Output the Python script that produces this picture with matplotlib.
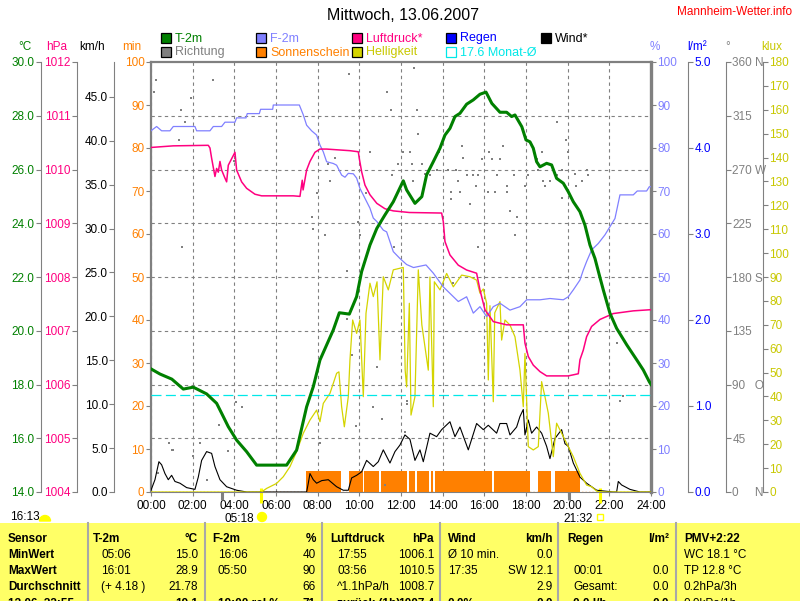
import matplotlib
matplotlib.use('Agg')
import matplotlib.pyplot as plt
from matplotlib.patches import Rectangle, Circle, Wedge
import numpy as np

plt.rcParams['font.family'] = ['Liberation Sans', 'DejaVu Sans']
plt.rcParams['font.size'] = 8.5

# ---------------- data ----------------
title = 'Mittwoch, 13.06.2007'
site = 'Mannheim-Wetter.info'
monat_avg = 17.6

t_hours = [0.0, 0.43, 1.0, 1.55, 2.03, 2.67, 3.15, 3.39, 3.71, 4.11, 4.59, 5.07, 6.51, 6.99, 7.47,
           7.79, 8.11, 8.43, 8.75, 9.04, 9.52, 9.87, 10.11, 10.51, 10.84, 11.23, 11.63, 12.11, 12.27,
           12.67, 13.0, 13.23, 13.55, 13.87, 14.11, 14.35, 14.59, 14.83, 15.15, 15.47, 15.79, 16.08,
           16.36, 16.75, 17.07, 17.31, 17.47, 17.8, 18.0, 18.19, 18.35, 18.51, 18.67, 18.99, 19.23,
           19.47, 19.79, 20.03, 20.27, 20.59, 20.83, 21.07, 21.31, 21.52, 21.71, 22.03, 22.35, 22.84,
           23.32, 23.63, 23.92, 24.0]
temp = [18.58, 18.39, 18.2, 17.83, 17.9, 17.65, 17.3, 16.93, 16.43, 15.93, 15.5, 15.0, 15.0, 15.56,
        17.17, 17.92, 18.91, 19.47, 20.03, 20.67, 20.62, 21.27, 22.2, 23.19, 23.81, 24.31, 24.8, 25.58,
        25.24, 24.74, 24.99, 25.8, 26.29, 26.79, 27.28, 27.53, 27.97, 28.09, 28.43, 28.59, 28.8, 28.88,
        28.46, 28.13, 28.13, 27.97, 28.03, 27.59, 27.1, 27.03, 26.79, 26.29, 26.1, 26.23, 26.17, 25.67,
        25.49, 25.17, 24.8, 24.43, 23.93, 23.19, 22.69, 22.07, 21.52, 20.65, 20.09, 19.47, 18.91, 18.54,
        18.1, 18.0]

h_hours = [0.0, 0.27, 0.51, 0.91, 1.07, 2.11, 2.19, 2.83, 2.99, 3.39, 3.55, 4.03, 4.11, 4.56, 4.62,
           5.2, 5.26, 5.84, 5.87, 7.12, 7.31, 7.47, 7.71, 7.95, 8.11, 8.27, 8.43, 8.75, 8.91, 9.15,
           9.31, 9.47, 9.71, 9.87, 10.03, 10.27, 10.51, 10.67, 10.84, 11.15, 11.31, 11.47, 11.63,
           11.79, 11.95, 12.27, 12.6, 13.2, 13.55, 14.03, 14.75, 15.15, 15.47, 15.79, 16.11, 16.43,
           16.75, 17.23, 17.71, 18.03, 18.67, 19.15, 19.79, 20.03, 20.27, 20.59, 20.75, 20.91, 21.15,
           21.47, 21.79, 22.03, 22.27, 22.51, 23.15, 23.34, 23.79, 23.92, 24.0]
hum = [84, 85, 84, 84, 85, 85, 84, 84, 85, 85, 86, 86, 87, 87, 88, 88, 89, 89, 90, 90, 87.7, 85.3,
       84, 83, 80.7, 79.1, 76.8, 76.4, 76, 73.7, 73.2, 74.1, 74, 73, 70.6, 68.3, 66, 63.7, 62.9, 60.9,
       60.5, 58.2, 55.9, 55.1, 54.3, 52.9, 52.2, 52.8, 50.9, 47.7, 44.3, 45.4, 41.6, 43.1, 40.8, 43.1,
       43.9, 42.3, 43.1, 44.7, 44.7, 45, 44.7, 45.4, 47, 49.3, 51.6, 53.6, 56.3, 57.8, 59.8, 61.7,
       63.6, 69.1, 69.1, 70, 70, 71, 71]

p_hours = [0.0, 1.07, 2.75, 2.83, 2.91, 3.07, 3.15, 3.23, 3.31, 3.39, 3.55, 3.63, 3.71, 4.03, 4.11,
           4.35, 4.59, 4.99, 5.31, 6.83, 7.15, 7.26, 7.3, 7.36, 7.47, 7.63, 7.87, 8.11, 8.43, 9.55,
           9.95, 10.0, 10.11, 10.27, 10.51, 10.84, 11.23, 11.63, 12.4, 13.95, 14.03, 14.11, 14.35,
           14.75, 15.15, 15.63, 15.79, 16.03, 16.43, 17.07, 17.87, 17.95, 18.11, 18.35, 18.67, 18.99,
           19.47, 20.03, 20.51, 20.59, 20.75, 20.91, 21.15, 21.55, 22.19, 23.15, 23.92, 24.0]
pres = [1010.41, 1010.44, 1010.45, 1010.4, 1010.21, 1009.87, 1010.02, 1009.95, 1010.15, 1009.99,
        1009.84, 1009.77, 1010.08, 1010.32, 1009.99, 1009.77, 1009.65, 1009.54, 1009.51, 1009.51,
        1009.5, 1009.8, 1009.62, 1009.75, 1009.99, 1010.15, 1010.32, 1010.38, 1010.38, 1010.35,
        1010.33, 1010.2, 1009.96, 1009.71, 1009.53, 1009.37, 1009.27, 1009.23, 1009.2, 1009.19,
        1009.03, 1008.66, 1008.41, 1008.22, 1008.13, 1008.07, 1007.76, 1007.39, 1007.17, 1007.11,
        1007.11, 1006.77, 1006.52, 1006.36, 1006.24, 1006.16, 1006.16, 1006.16, 1006.2, 1006.46,
        1006.64, 1006.89, 1007.08, 1007.21, 1007.32, 1007.37, 1007.39, 1007.39]

w_hours = [0.0, 0.19, 0.38, 0.51, 0.67, 0.83, 0.99, 1.15, 1.39, 1.71, 2.11, 2.27, 2.43, 2.67, 2.91,
           3.07, 3.31, 3.63, 4.11, 4.59, 7.47, 7.55, 7.63, 7.79, 7.95, 8.2, 8.51, 8.91, 9.23, 9.47,
           9.63, 9.87, 10.11, 10.35, 10.67, 10.91, 11.15, 11.47, 11.71, 11.95, 12.19, 12.43, 12.67,
           12.91, 13.07, 13.39, 13.71, 13.95, 14.35, 14.59, 14.83, 15.23, 15.63, 15.95, 16.19, 16.59,
           16.75, 17.07, 17.23, 17.55, 17.71, 17.87, 17.95, 18.11, 18.27, 18.51, 18.75, 18.99, 19.15,
           19.39, 19.71, 19.87, 20.03, 20.27, 20.59, 20.91, 21.39, 22.19, 22.35, 22.43, 22.59, 22.99,
           23.47, 24.0]
wind = [0.2, 1.4, 3.45, 3.1, 2.1, 1.4, 1.9, 1.2, 1.0, 0.5, 0.3, 1.7, 3.6, 4.6, 4.4, 2.9, 1.4, 0.6,
        0.2, 0.0, 0.0, 1.0, 2.1, 1.4, 1.0, 1.3, 1.4, 0.6, 0.2, 0.2, 1.6, 1.9, 2.3, 3.6, 2.9, 3.45, 4.8,
        3.3, 4.6, 5.35, 6.5, 6.0, 3.6, 4.8, 3.45, 6.7, 6.3, 7.1, 8.0, 6.3, 7.4, 4.8, 7.8, 7.1, 7.6,
        6.7, 7.8, 7.8, 6.5, 7.4, 8.6, 9.4, 6.5, 8.2, 6.7, 7.4, 6.7, 5.2, 3.8, 6.1, 7.1, 5.5, 5.2, 3.3,
        1.7, 1.0, 0.2, 0.0, 0.0, 1.2, 0.8, 0.3, 0.0, 0.0]

l_hours = [0.0, 5.3, 5.55, 6.03, 6.35, 6.67, 6.99, 7.31, 7.63, 7.95, 8.11, 8.27, 8.59, 8.91, 9.02,
           9.15, 9.28, 9.47, 9.55, 9.68, 9.87, 10.03, 10.19, 10.32, 10.51, 10.67, 10.85, 10.99, 11.15,
           11.39, 11.63, 12.11, 12.2, 12.27, 12.4, 12.48, 12.67, 12.83, 13.0, 13.31, 13.39, 13.55,
           13.6, 13.87, 14.19, 14.51, 14.91, 15.31, 15.63, 15.79, 15.95, 16.11, 16.19, 16.27, 16.43,
           16.5, 16.75, 16.83, 16.99, 17.23, 17.47, 17.71, 17.87, 17.95, 18.11, 18.35, 18.59, 18.75,
           18.91, 19.07, 19.31, 19.47, 19.71, 19.95, 20.27, 20.59, 20.91, 21.15, 21.39, 21.53, 24.0]
lux = [0, 0, 1.5, 3.6, 6.4, 10.6, 16.9, 24.6, 30.1, 34.3, 29.4, 37.1, 41.3, 49.7, 50.3, 35.7, 27.3,
       39.9, 55.3, 72, 66.4, 72, 39.9, 74.8, 87.4, 81.8, 88, 55.3, 90.1, 84.6, 93, 94, 51, 44, 79,
       32.2, 39.9, 93, 70, 51, 90, 35.7, 88, 84.6, 91.5, 85.9, 90.8, 90.1, 88.7, 83.2, 85, 79, 46.9,
       78, 37.8, 75, 79.7, 63.6, 72, 69.9, 65, 51, 35.7, 58, 19, 17.6, 19, 46.2, 39.9, 33, 14.8, 28.8,
       24.6, 20.4, 14.8, 7.8, 2.9, 2.2, 0.4, 0, 0]

sun_start = [7.42, 9.5, 10.22, 11.03, 12.4, 12.75, 13.43, 13.63, 16.47, 18.59, 19.39]
sun_end = [9.1, 10.16, 10.96, 12.27, 12.67, 13.36, 13.55, 16.35, 18.19, 19.19, 20.59]
sun_minutes = [5, 5, 5, 5, 5, 5, 5, 5, 5, 5, 5]

d_hours = [0.14, 0.24, 0.35, 0.88, 0.99, 1.05, 1.36, 1.44, 1.47, 1.63,
           1.92, 2.03, 2.35, 2.67, 2.96, 3.28, 3.71, 4.0, 4.08, 4.38,
           7.71, 7.79, 7.95, 8.11, 8.35, 8.51, 8.59, 8.83, 9.4, 9.42,
           9.5, 9.63, 9.84, 9.95, 10.03, 10.32, 10.51, 10.67, 10.86, 11.1,
           11.23, 11.31, 11.5, 11.55, 11.66, 11.87, 12.11, 12.19, 12.27, 12.27,
           12.43, 12.51, 12.59, 12.64, 12.75, 12.8, 13.0, 13.15, 13.39, 13.71,
           13.84, 14.24, 14.39, 14.39, 14.51, 14.64, 14.75, 14.83, 14.91, 14.99,
           15.15, 15.31, 15.47, 15.6, 15.68, 15.71, 15.87, 16.19, 16.24, 16.35,
           16.51, 16.59, 16.75, 16.91, 17.07, 17.1, 17.23, 17.43, 17.47, 17.55,
           17.95, 18.11, 18.51, 18.59, 18.75, 18.83, 18.91, 19.15, 19.51, 19.51,
           19.71, 19.71, 19.92, 20.0, 20.35, 20.4, 20.67, 20.91, 20.99, 22.39,
           22.51, 22.64]
d_deg = [335, 345, 16, 41, 35, 35, 295, 320, 205, 310,
         330, 30, 41, 10, 345, 56, 34, 277, 75, 71,
         230, 220, 250, 41, 215, 275, 260, 280, 145, 185,
         350, 115, 55, 226, 215, 250, 285, 71, 105, 61,
         6, 335, 320, 265, 205, 275, 285, 50, 76, 74,
         285, 275, 260, 355, 320, 300, 275, 266, 265, 270,
         285, 270, 251, 245, 175, 270, 260, 251, 290, 280,
         265, 241, 265, 256, 205, 265, 279, 251, 285, 279,
         251, 265, 279, 290, 251, 256, 235, 265, 215, 230,
         256, 265, 279, 270, 285, 260, 256, 260, 310, 265,
         270, 246, 295, 285, 266, 256, 260, 270, 265, 125,
         76, 80]

x_ticks = list(range(0, 25, 2))
x_labels = ['%02d:00' % h for h in x_ticks]
sun_events = [('05:18', 'rise'), ('21:32', 'set')]
moon_marks = [3.43, 20.08]

table_cols = [
    ['Sensor', 'MinWert', 'MaxWert', 'Durchschnitt', '13.06. 22:55'],
    ['T-2m', '05:06', '16:01', '(+ 4.18 )', ''],
    ['F-2m', '16:06', '05:50', '', '19:00 rel.%'],
    ['Luftdruck', '17:55', '03:56', '^1.1hPa/h', 'zur\u00fcck (1h)'],
    ['Wind', '\u00d8 10 min.', '17:35', '', '0.0%'],
    ['Regen', '', '00:01', 'Gesamt:', '0.0 l/h'],
    ['PMV+2:22', 'WC 18.1 \u00b0C', 'TP 12.8 \u00b0C', '0.2hPa/3h', '0.0kPa/1h'],
]
table_right = [
    ['', '', '', '', ''],
    ['\u00b0C', '15.0', '28.9', '21.78', '19.1'],
    ['%', '40', '90', '66', '71'],
    ['hPa', '1006.1', '1010.5', '1008.7', '1007.4'],
    ['km/h', '0.0', 'SW 12.1', '2.9', '0.0'],
    ['l/m\u00b2', '', '0.0', '0.0', '0.0'],
    ['', '', '', '', ''],
]

# ---------------- colours ----------------
C_T = '#008000'; C_F = '#8080ff'; C_P = '#ff0080'; C_SUN = '#ff8000'
C_L = '#d4d400'; C_LT = '#c8c800'; C_R = '#0000ff'; C_AVG = '#00e8e8'
C_DIR = '#808080'; C_W = '#000000'; GRAY = '#808080'

W, H = 800, 601
fig = plt.figure(figsize=(8, 6.01), dpi=100)
fig.patch.set_facecolor('white')

L, R, T, B = 151, 651, 62, 492
ax0 = fig.add_axes([L / W, 1 - B / H, (R - L) / W, (B - T) / H])
ax0.set_xlim(0, 24)
ax0.set_ylim(14, 30)
ax0.set_xticks(x_ticks)
ax0.set_xticklabels(x_labels)
ax0.set_yticks(np.arange(16, 30, 2))
ax0.tick_params(axis='y', length=0, labelleft=False, labelright=False)
ax0.tick_params(axis='x', direction='out', length=3, width=0.8, color=GRAY, pad=3.0, labelsize=8.5)
ax0.grid(True, color=GRAY, lw=0.8, ls=(0, (3, 3)))
for s in ['top', 'left']:
    ax0.spines[s].set_color(GRAY); ax0.spines[s].set_linewidth(1.6)
ax0.spines['right'].set_color(GRAY); ax0.spines['right'].set_linewidth(2.4)
ax0.spines['bottom'].set_color(GRAY); ax0.spines['bottom'].set_linewidth(0.8)


def twin(side, pos, ylim, ticks, labels, color):
    a = ax0.twinx()
    for s in a.spines.values():
        s.set_visible(False)
    a.set_ylim(*ylim)
    if side == 'left':
        a.yaxis.tick_left()
    else:
        a.yaxis.tick_right()
    if pos is not None:
        sp = a.spines[side]
        sp.set_position(('axes', pos)); sp.set_visible(True)
        sp.set_color(GRAY); sp.set_linewidth(0.8)
    a.set_yticks(ticks)
    a.set_yticklabels(labels)
    a.tick_params(axis='y', direction='out', length=3.5, width=0.8, color=GRAY,
                  labelcolor=color, pad=1.2, labelsize=8.5)
    return a


# sunshine (min axis on the frame)
ax_min = twin('left', None, (0, 100), range(0, 101, 10), [str(v) for v in range(0, 101, 10)], C_SUN)
ax_min.bar(sun_start, sun_minutes, width=np.subtract(sun_end, sun_start), bottom=0,
           align='edge', color=C_SUN, lw=0)
ax_min.axhline(0, color=C_SUN, lw=1, ls=(0, (1, 1.5)))

# wind
ax_w = twin('left', -0.0734, (0, 48.97), np.arange(0, 46, 5), ['%.1f' % v for v in np.arange(0, 46, 5)], C_W)
ax_w.plot(w_hours, wind, color=C_W, lw=0.8)

# brightness
ax_l = twin('right', 1.2234, (0, 180), range(0, 181, 10), [str(v) for v in range(0, 181, 10)], C_LT)
ax_l.plot(l_hours, lux, color=C_L, lw=0.9)

# direction
deg_labels = ['0     N', '45', '90   O', '135', '180 S', '225', '270 W', '315', '360 N']
ax_d = twin('right', 1.1494, (0, 360), range(0, 361, 45), deg_labels, GRAY)
ax_d.scatter(d_hours, d_deg, s=3.2, marker='s', color=C_DIR, lw=0)

# rain (none this day)
ax_r = twin('right', 1.0746, (0, 5), np.arange(0, 5.1, 1), ['%.1f' % v for v in np.arange(0, 5.1, 1)], C_R)

# humidity (right frame)
ax_f = twin('right', None, (0, 100), range(0, 101, 10), [str(v) for v in range(0, 101, 10)], C_F)
ax_f.plot(h_hours, hum, color=C_F, lw=0.9)

# pressure
ax_p = twin('left', -0.1474, (1004, 1012), range(1004, 1013), [str(v) for v in range(1004, 1013)], C_P)
ax_p.plot(p_hours, pres, color=C_P, lw=1.1)

# temperature
ax_t = twin('left', -0.2206, (14, 30), np.arange(14, 31, 2), ['%.1f' % v for v in np.arange(14, 31, 2)], C_T)
ax_t.axhline(monat_avg, color=C_AVG, lw=0.9, ls=(0, (8, 3.5)))
ax_t.plot(t_hours, temp, color=C_T, lw=2.2)

# event marks below the axis
def hm(s):
    hh, mm = s.split(':')
    return int(hh) + int(mm) / 60.0

tr = ax0.get_xaxis_transform()
for mh in moon_marks:
    ax0.plot([mh, mh], [0, -0.018], transform=tr, color=GRAY, lw=2.2, clip_on=False, solid_capstyle='butt')
for lab, kind in sun_events:
    h = hm(lab)
    ax0.plot([h, h], [0.01, -0.025], transform=tr, color='#ffff00', lw=2.2, clip_on=False,
             solid_capstyle='butt')
    ax0.annotate(lab, xy=(h, 0), xycoords=tr, xytext=(-5, -19.5), textcoords='offset points',
                 ha='right', va='center', fontsize=8.5)

# ---------------- overlay in pixel coordinates ----------------
ov = fig.add_axes([0, 0, 1, 1])
ov.set_xlim(0, W); ov.set_ylim(H, 0); ov.axis('off')
ov.patch.set_visible(False)

ov.text(403, 15, title, ha='center', va='center', fontsize=11.5)
ov.text(792, 12, site, ha='right', va='center', fontsize=8.5, color='#ff0000')

units = [(25, '\u00b0C', C_T), (57, 'hPa', C_P), (92, 'km/h', C_W), (132, 'min', C_SUN),
         (655, '%', C_F), (697, 'l/m\u00b2', C_R), (728, '\u00b0', GRAY), (772, 'klux', C_LT)]
for x, s, c in units:
    ov.text(x, 47, s, ha='center', va='center', color=c, fontsize=8.5)

legend = [(161, 33, 'T-2m', C_T, C_T, True), (161, 47, 'Richtung', C_DIR, C_DIR, True),
          (256, 33, 'F-2m', C_F, C_F, True), (256, 47, 'Sonnenschein', C_SUN, C_SUN, True),
          (352, 33, 'Luftdruck*', C_P, C_P, True), (352, 47, 'Helligkeit', C_L, C_LT, True),
          (446, 33, 'Regen', C_R, C_R, True), (446, 47, '%.1f Monat-\u00d8' % monat_avg, C_AVG, C_AVG, False),
          (541, 33, 'Wind*', C_W, C_W, True)]
for x, y, s, fc, tc, filled in legend:
    if filled:
        ov.add_patch(Rectangle((x, y), 10, 10, facecolor=fc, edgecolor='black', lw=0.9))
    else:
        ov.add_patch(Rectangle((x, y), 10, 10, facecolor='none', edgecolor=fc, lw=0.9))
    ov.text(x + 14, y + 5.5, s, ha='left', va='center', color=tc, fontsize=9)

ov.text(10, 517, '16:13', ha='left', va='center', fontsize=8.5)
ov.add_patch(Wedge((45, 521), 5.5, 180, 360, color='#ffff00'))
ov.add_patch(Circle((262, 517), 4.5, color='#ffff00'))
ov.add_patch(Rectangle((597, 514), 6, 6, facecolor='none', edgecolor='#ffff00', lw=1))

# table
ov.add_patch(Rectangle((0, 523), W, H - 523 + 5, color='#ffff66', lw=0))
seps = [88, 205, 322, 440, 558, 676]
for x in seps:
    ov.plot([x, x], [523, H + 5], color='#a8a8a8', lw=1.5)
lefts = [8, 93, 212, 330, 448, 567, 684]
rights = [None, 198, 316, 434, 553, 669, None]
subl = [8, 101, 218, 337, 448, 573, 684]
rows_y = [539, 555, 571, 587, 604]
for ci in range(7):
    for ri in range(5):
        txt = table_cols[ci][ri]
        bold = (ci == 0) or ri == 0 or ri == 4
        x = lefts[ci] if (ri == 0 or ci == 0) else subl[ci]
        if ci == 6:
            bold = ri == 0
        if txt:
            ov.text(x, rows_y[ri], txt, ha='left', va='center', fontsize=8.5,
                    fontweight='bold' if bold else 'normal')
        rt = table_right[ci][ri]
        if rt and rights[ci] is not None:
            ov.text(rights[ci], rows_y[ri], rt, ha='right', va='center', fontsize=8.5,
                    fontweight='bold' if ri in (0, 4) else 'normal')

fig.savefig('out.png', dpi=100, facecolor='white')
